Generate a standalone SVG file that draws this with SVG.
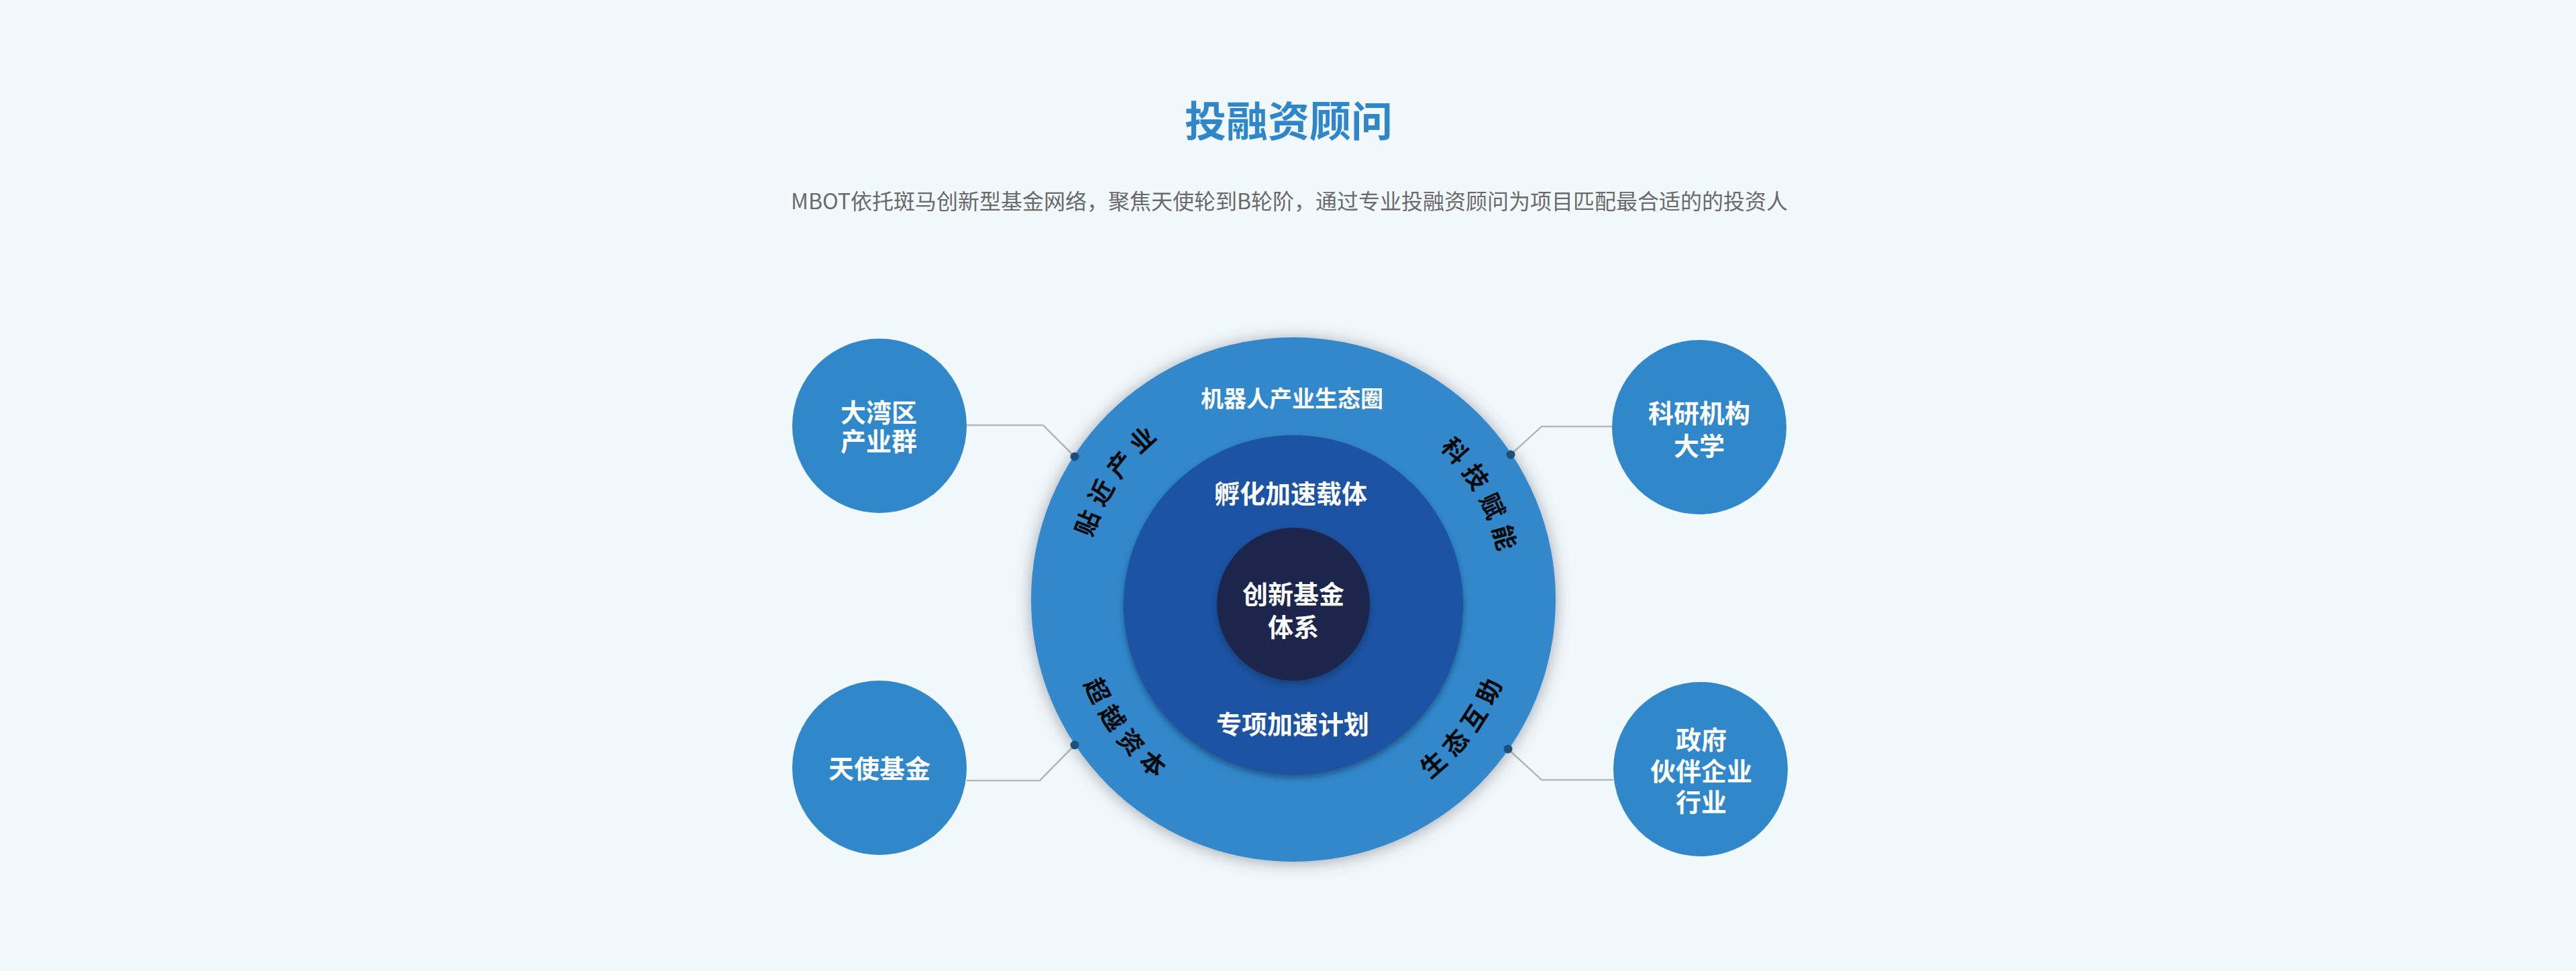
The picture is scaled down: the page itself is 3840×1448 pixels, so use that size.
<svg xmlns="http://www.w3.org/2000/svg" width="3840" height="1448" viewBox="0 0 3840 1448">
  <style>
    .cjk { font-family: "Noto Sans CJK SC", "Noto Sans", sans-serif; }
    .title { font-size: 62px; font-weight: 700; fill: #2f87c9; }
    .sub { font-size: 32px; font-weight: 400; fill: #6a6a6a; }
    .lbl { font-size: 38px; font-weight: 700; fill: #ffffff; text-anchor: middle; }
    .ring { font-size: 34px; font-weight: 700; fill: #ffffff; text-anchor: middle; }
    .arc { font-size: 37px; font-weight: 700; fill: #0a0a0a; letter-spacing: 11px; }
    .node { fill: #3088ca; }
    .conn { fill: none; stroke: #b3b8bf; stroke-width: 2.5; }
    .dot { fill: #1b4f7c; }
  </style>
  <defs>
    <filter id="outerShadow" x="-20%" y="-20%" width="140%" height="140%">
      <feDropShadow dx="0" dy="2" stdDeviation="12" flood-color="#4a4f55" flood-opacity="0.5"/>
    </filter>
    <filter id="innerShadow" x="-20%" y="-20%" width="140%" height="140%">
      <feDropShadow dx="0" dy="5" stdDeviation="4" flood-color="#0b2f55" flood-opacity="0.55"/>
    </filter>
    <path id="arcUL" d="M 1647.0 1034.1 A 314 314 0 0 1 1947.2 580.6"/>
    <path id="arcUR" d="M 1930.7 580.0 A 314 314 0 0 1 2198.6 1053.4"/>
    <path id="arcLL" d="M 1618.0 764.3 A 336 336 0 0 0 1970.7 1227.3"/>
    <path id="arcLR" d="M 1885.3 1227.3 A 336 336 0 0 0 2238.0 764.3"/>
  </defs>

  <rect x="0" y="0" width="3840" height="1448" fill="#f2f9fd"/>

  <g id="header" class="cjk">
    <text class="title" x="1921" y="204" text-anchor="middle">投融资顾问</text>
    <text class="sub" x="1922" y="312" text-anchor="middle">MBOT依托斑马创新型基金网络，聚焦天使轮到B轮阶，通过专业投融资顾问为项目匹配最合适的的投资人</text>
  </g>

  <g id="connectors">
    <polyline class="conn" points="1441,634 1555,634 1602,681"/>
    <polyline class="conn" points="2403,636 2298,636 2252,678"/>
    <polyline class="conn" points="1441,1164 1550,1164 1602,1111"/>
    <polyline class="conn" points="2405,1163 2298,1163 2248,1117"/>
  </g>

  <g id="ecosystem" class="cjk">
    <circle cx="1928" cy="894" r="391" fill="#3088ca" filter="url(#outerShadow)"/>
    <circle cx="1928" cy="902" r="253" fill="#1a52a2" filter="url(#innerShadow)"/>
    <circle cx="1928" cy="901" r="114" fill="#1b274d" filter="url(#innerShadow)"/>
    <text class="ring" x="1926" y="607">机器人产业生态圈</text>
    <text class="lbl" x="1924" y="750">孵化加速载体</text>
    <text class="lbl" x="1928" y="900">创新基金<tspan x="1928" dy="49">体系</tspan></text>
    <text class="lbl" x="1927" y="1094">专项加速计划</text>
    <text class="arc"><textPath href="#arcUL" startOffset="238">贴近产业</textPath></text>
    <text class="arc"><textPath href="#arcUR" startOffset="238">科技赋能</textPath></text>
    <text class="arc"><textPath href="#arcLL" startOffset="261">超越资本</textPath></text>
    <text class="arc"><textPath href="#arcLR" startOffset="261">生态互助</textPath></text>
    <circle class="dot" cx="1602" cy="681" r="6.5"/>
    <circle class="dot" cx="2252" cy="678" r="6.5"/>
    <circle class="dot" cx="1602" cy="1111" r="6.5"/>
    <circle class="dot" cx="2248" cy="1117" r="6.5"/>
  </g>

  <g id="node-dawanqu" class="cjk">
    <circle class="node" cx="1311" cy="635" r="130"/>
    <text class="lbl" x="1310" y="629">大湾区<tspan x="1310" dy="43">产业群</tspan></text>
  </g>

  <g id="node-keyan" class="cjk">
    <circle class="node" cx="2533" cy="637" r="130"/>
    <text class="lbl" x="2533" y="630">科研机构<tspan x="2533" dy="49">大学</tspan></text>
  </g>

  <g id="node-tianshi" class="cjk">
    <circle class="node" cx="1311" cy="1145" r="130"/>
    <text class="lbl" x="1311" y="1160">天使基金</text>
  </g>

  <g id="node-zhengfu" class="cjk">
    <circle class="node" cx="2535" cy="1147" r="130"/>
    <text class="lbl" x="2536" y="1117">政府<tspan x="2536" dy="47">伙伴企业</tspan><tspan x="2536" dy="46">行业</tspan></text>
  </g>
</svg>
